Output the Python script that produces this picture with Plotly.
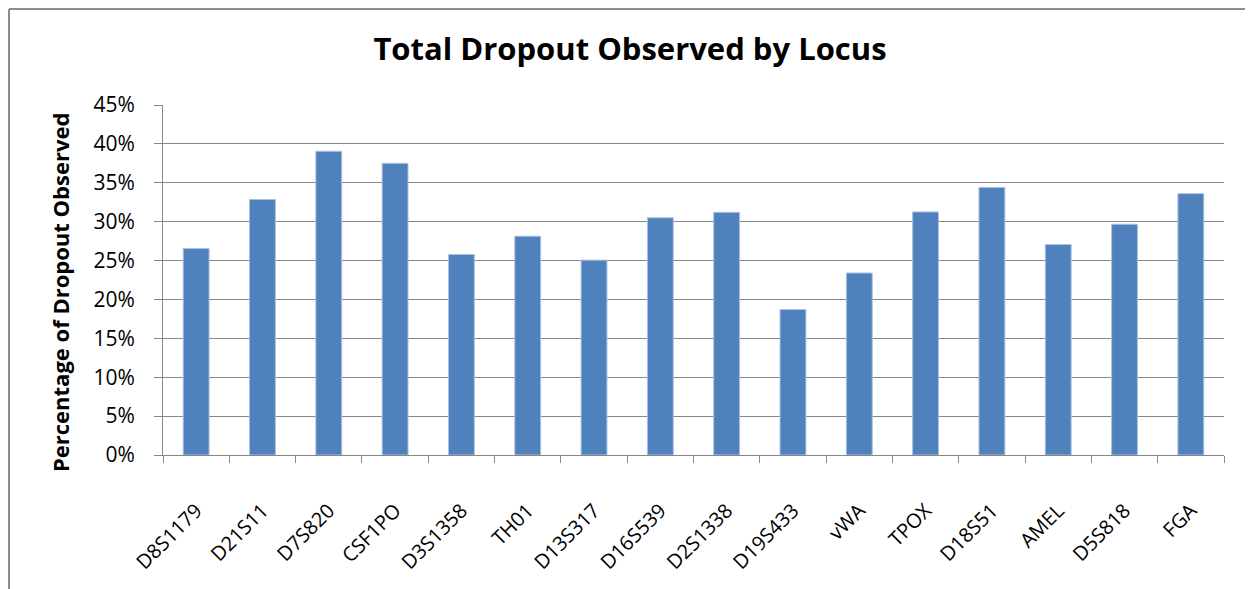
import plotly.graph_objects as go

loci = ["D8S1179", "D21S11", "D7S820", "CSF1PO", "D3S1358", "TH01", "D13S317",
        "D16S539", "D2S1338", "D19S433", "vWA", "TPOX", "D18S51", "AMEL", "D5S818", "FGA"]
dropout = [0.2655, 0.3285, 0.3905, 0.375, 0.2578, 0.2813, 0.2505,
           0.305, 0.312, 0.187, 0.234, 0.3125, 0.344, 0.2706, 0.2967, 0.336]
tick_vals = [0, 0.05, 0.10, 0.15, 0.20, 0.25, 0.30, 0.35, 0.40, 0.45]
tick_text = ["0%", "5%", "10%", "15%", "20%", "25%", "30%", "35%", "40%", "45%"]

FONT = "Open Sans"
GRID = "#878787"

fig = go.Figure(go.Bar(
    x=loci, y=dropout,
    marker=dict(color="#4F81BD", line=dict(color="#A9C1E0", width=1)),
))

# page has an 8px body margin; figure sized to fit the window
W, H = 1245, 581
L, R, T, B = 155, 29, 97, 134
pw, ph = W - L - R, H - T - B

bx = (1 - L) / pw          # border x (figure px 1)
by = (H - B - 1) / ph      # border y (figure px 1 from top)

fig.update_layout(
    width=W, height=H,
    margin=dict(l=L, r=R, t=T, b=B),
    paper_bgcolor="white", plot_bgcolor="white",
    bargap=0.61,
    showlegend=False,
    title=dict(text="<b>Total Dropout Observed by Locus</b>", x=(630 - 8) / W, xref="container",
               xanchor="center",
               y=(H - 41) / H, yanchor="middle",
               font=dict(family=FONT, size=31, color="black")),
    font=dict(family=FONT, color="black"),
    shapes=[
        dict(type="line", xref="paper", yref="paper",
             x0=bx, x1=(W + 10 - L) / pw, y0=by, y1=by,
             line=dict(color="#8c8c8c", width=2)),
        dict(type="line", xref="paper", yref="paper",
             x0=bx, x1=bx, y0=by, y1=-(B + 10) / ph,
             line=dict(color="#8c8c8c", width=2)),
    ],
    annotations=[
        dict(text="<b>Percentage of Dropout Observed</b>", textangle=-90,
             xref="paper", yref="paper",
             x=(60 - 8 - L) / pw, y=(H - B - (293 - 8)) / ph,
             xanchor="center", yanchor="middle", showarrow=False,
             font=dict(family=FONT, size=22, color="black")),
    ],
)

fig.update_yaxes(
    range=[0, 0.45], tickvals=tick_vals, ticktext=tick_text,
    showgrid=True, gridcolor=GRID, gridwidth=1,
    showline=True, linecolor=GRID, linewidth=1,
    ticks="outside", ticklen=8, tickcolor=GRID,
    ticklabelstandoff=15,
    tickfont=dict(family=FONT, size=21, color="black"),
    zeroline=False,
)
fig.update_xaxes(
    showline=True, linecolor=GRID, linewidth=1,
    ticks="outside", ticklen=7, tickcolor=GRID, tickson="boundaries",
    tickangle=-45,
    tickfont=dict(family=FONT, size=20, color="black"),
    ticklabelstandoff=35,
    showgrid=False,
)

fig.write_html("out.html")
